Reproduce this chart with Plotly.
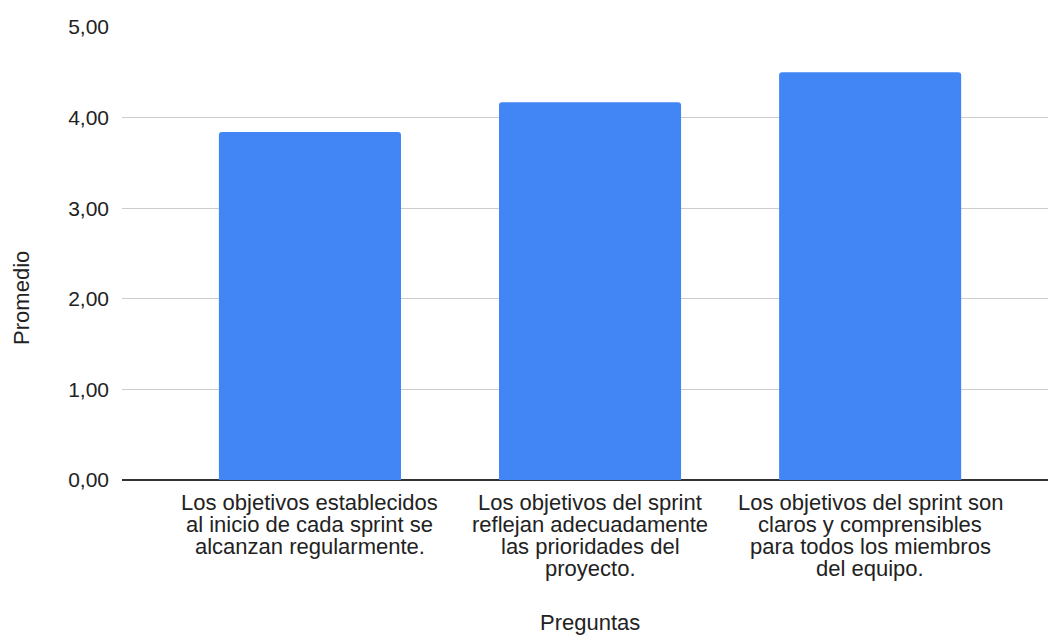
import plotly.graph_objects as go

categories = [
    "Los objetivos establecidos al inicio de cada sprint se alcanzan regularmente.",
    "Los objetivos del sprint reflejan adecuadamente las prioridades del proyecto.",
    "Los objetivos del sprint son claros y comprensibles para todos los miembros del equipo.",
]
category_label_lines = [
    ["Los objetivos establecidos", "al inicio de cada sprint se", "alcanzan regularmente."],
    ["Los objetivos del sprint", "reflejan adecuadamente", "las prioridades del", "proyecto."],
    ["Los objetivos del sprint son", "claros y comprensibles", "para todos los miembros", "del equipo."],
]
promedio = [3.84, 4.17, 4.50]
y_ticks = [0, 1, 2, 3, 4, 5]

FONT = "Arial, Liberation Sans, sans-serif"
FS_TICK = 21
FS_LABEL = 22
COLOR = "#222222"

fig = go.Figure(
    go.Bar(
        x=categories,
        y=promedio,
        marker=dict(color="#4285F4", line=dict(width=0)),
        width=0.65,
        hoverinfo="skip",
    )
)

fig.update_layout(
    width=1048,
    height=637,
    margin=dict(l=122, r=0, t=27, b=157),
    paper_bgcolor="white",
    plot_bgcolor="white",
    separators=",.",
    showlegend=False,
    barcornerradius=3,
    font=dict(family=FONT, size=FS_TICK, color=COLOR),
)

fig.update_xaxes(
    type="category",
    range=[-0.671, 2.635],
    showgrid=False,
    showline=False,
    ticks="",
    showticklabels=False,
    zeroline=False,
)

fig.update_yaxes(
    range=[0, 5],
    tickvals=y_ticks,
    tickformat=".2f",
    showgrid=True,
    gridcolor="#cccccc",
    gridwidth=1,
    zeroline=True,
    zerolinecolor="#333333",
    zerolinewidth=1.5,
    showline=False,
    ticks="",
    ticklabelstandoff=12,
    tickfont=dict(family=FONT, size=FS_TICK, color=COLOR),
)

# category labels, one line per annotation for tight line spacing
for cat, lines in zip(categories, category_label_lines):
    for j, line in enumerate(lines):
        fig.add_annotation(
            text=line, x=cat, xref="x", y=0, yref="y",
            xanchor="center", yanchor="middle", yshift=-(22 + 22.3 * j),
            showarrow=False, font=dict(family=FONT, size=FS_LABEL, color=COLOR),
        )

fig.add_annotation(
    text="Promedio", textangle=-90,
    xref="paper", yref="paper", x=-0.108, y=0.402,
    xanchor="center", yanchor="middle", showarrow=False,
    font=dict(family=FONT, size=FS_LABEL, color=COLOR),
)
fig.add_annotation(
    text="Preguntas",
    xref="paper", yref="paper", x=0.505, y=-0.315,
    xanchor="center", yanchor="middle", showarrow=False,
    font=dict(family=FONT, size=FS_LABEL, color=COLOR),
)

fig.write_html(
    "out.html",
    config={"displayModeBar": False},
    post_script="document.body.style.margin='0';",
)
